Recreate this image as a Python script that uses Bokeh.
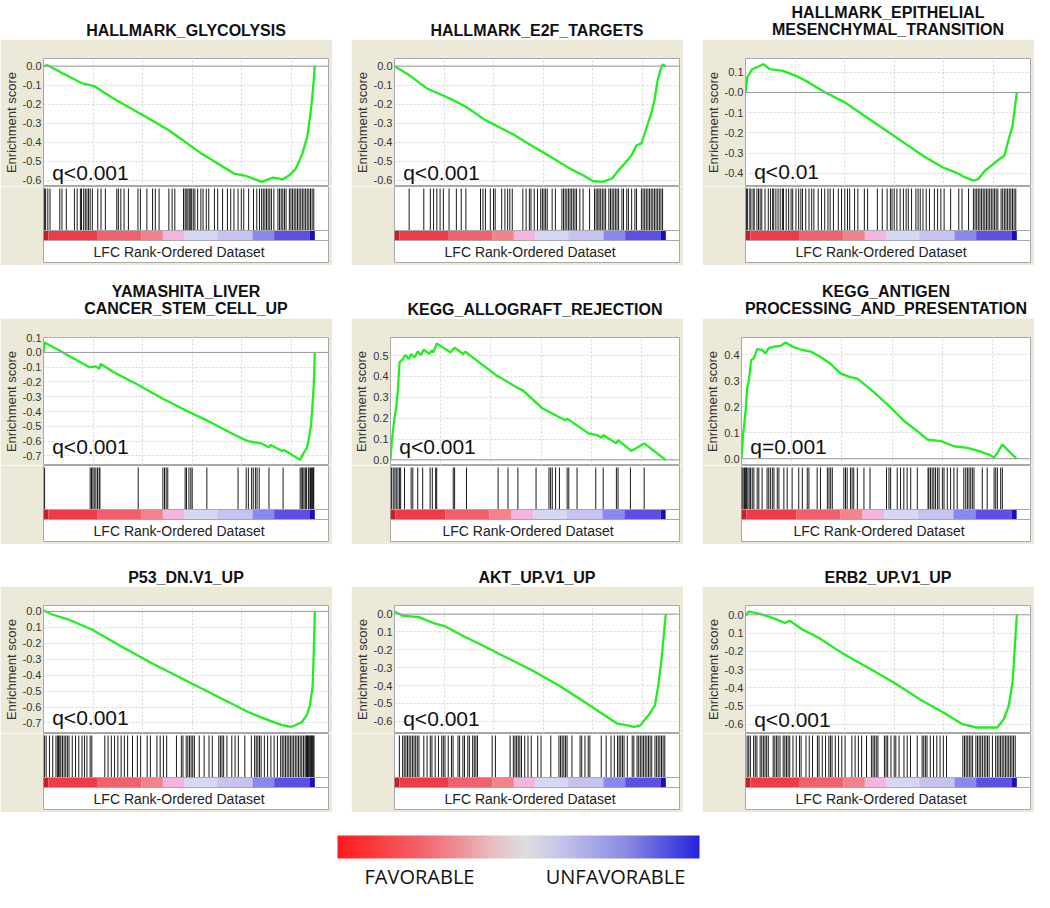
import numpy as np
from bokeh.plotting import figure
from bokeh.layouts import column, row
from bokeh.models import Range1d, FixedTicker, SingleIntervalTicker, Span, Label, Spacer, LinearColorMapper
from bokeh.core.properties import value
from bokeh.embed import file_html
from bokeh.resources import INLINE

# ---------------- data ----------------
N_GENES = 13700  # size of the ranked list

titles = ["HALLMARK_GLYCOLYSIS", "HALLMARK_E2F_TARGETS", "HALLMARK_EPITHELIAL\nMESENCHYMAL_TRANSITION",
          "YAMASHITA_LIVER\nCANCER_STEM_CELL_UP", "KEGG_ALLOGRAFT_REJECTION", "KEGG_ANTIGEN\nPROCESSING_AND_PRESENTATION",
          "P53_DN.V1_UP", "AKT_UP.V1_UP", "ERB2_UP.V1_UP"]
q_texts = ["q<0.001", "q<0.001", "q<0.01", "q<0.001", "q<0.001", "q=0.001", "q<0.001", "q<0.001", "q<0.001"]

# running enrichment score: position (% of ranked list) and ES
glyco_x = [0, 1.5, 7.2, 14.4, 18.6, 25.8, 37.8, 46.2, 58.2, 70.2, 75.0, 80.4, 84.6, 88.2, 90.6, 93.0, 95.4, 97.2, 98.4, 99.0, 99.6, 100]
glyco_es = [0, 0.005, -0.039, -0.091, -0.105, -0.17, -0.267, -0.337, -0.46, -0.565, -0.579, -0.609, -0.586, -0.595, -0.574, -0.539, -0.46, -0.372, -0.249, -0.17, -0.074, 0]
e2f_x = [0, 5.4, 12.0, 20.4, 26.3, 33.5, 39.5, 44.3, 50.3, 57.5, 64.7, 69.5, 73.1, 76.6, 80.2, 82.6, 85.0, 87.4, 89.2, 91.0, 92.8, 94.6, 95.8, 97.0, 98.0, 98.8, 100]
e2f_es = [0, -0.047, -0.118, -0.17, -0.214, -0.284, -0.328, -0.363, -0.416, -0.477, -0.539, -0.574, -0.604, -0.609, -0.591, -0.547, -0.509, -0.468, -0.416, -0.407, -0.328, -0.249, -0.179, -0.074, -0.021, 0.009, 0]
emt_x = [0, 0.6, 2.4, 5.4, 6.6, 9.0, 13.8, 18.6, 22.2, 29.4, 36.6, 43.8, 51.0, 58.2, 65.4, 72.6, 77.4, 81.0, 84.0, 85.8, 88.2, 90.6, 93.6, 95.4, 97.2, 98.4, 99.2, 100]
emt_es = [0, 0.074, 0.115, 0.132, 0.14, 0.115, 0.107, 0.082, 0.058, 0.0, -0.049, -0.115, -0.181, -0.247, -0.313, -0.37, -0.395, -0.42, -0.436, -0.428, -0.387, -0.362, -0.329, -0.313, -0.222, -0.165, -0.082, 0]
yama_x = [0, 0.4, 7.2, 16.9, 19.3, 20.5, 21.1, 25.9, 34.3, 44.0, 53.6, 60.8, 70.5, 75.3, 80.1, 83.1, 83.7, 88.0, 88.6, 94.6, 95.8, 97.0, 97.6, 98.6, 99.2, 99.6, 100]
yama_es = [0, 0.067, 0.0, -0.101, -0.094, -0.112, -0.078, -0.134, -0.213, -0.313, -0.403, -0.465, -0.559, -0.6, -0.615, -0.642, -0.626, -0.667, -0.66, -0.727, -0.683, -0.649, -0.604, -0.492, -0.336, -0.224, 0]
allo_x = [0, 0.4, 1.0, 1.5, 2.1, 2.7, 3.3, 4.5, 5.4, 6.6, 7.5, 8.7, 9.9, 11.1, 12.1, 14.1, 14.9, 15.6, 16.8, 19.5, 21.8, 23.3,
          26.4, 27.2, 31.4, 38.5, 39.7, 42.7, 45.7, 48.1, 55.3, 60.0, 63.6, 64.2, 72.0, 75.0, 76.7, 77.3, 82.1, 82.7, 87.5, 92.2, 100]
allo_es = [0, 0.079, 0.151, 0.206, 0.254, 0.341, 0.468, 0.484, 0.503, 0.484, 0.508, 0.492, 0.519, 0.503, 0.529, 0.508, 0.524, 0.516, 0.559, 0.535, 0.516, 0.538,
           0.508, 0.519, 0.476, 0.405, 0.397, 0.373, 0.349, 0.333, 0.246, 0.214, 0.19, 0.198, 0.127, 0.119, 0.106, 0.119, 0.079, 0.095, 0.043, 0.079, 0]
anti_x = [0, 0.6, 1.5, 2.1, 2.7, 3.5, 4.5, 5.7, 7.5, 8.7, 9.9, 11.8, 14.2, 16.0, 19.0, 22.1, 25.1, 28.7, 32.4, 36.0, 39.6, 42.1,
          48.1, 54.2, 59.1, 63.9, 67.5, 72.4, 77.2, 82.1, 86.4, 89.9, 91.8, 93.0, 94.8, 96.6, 100]
anti_es = [0, 0.094, 0.184, 0.275, 0.301, 0.379, 0.386, 0.421, 0.418, 0.405, 0.425, 0.431, 0.434, 0.447, 0.429, 0.418, 0.412, 0.392, 0.364, 0.327, 0.314, 0.308,
           0.256, 0.197, 0.145, 0.106, 0.074, 0.068, 0.048, 0.042, 0.029, 0.016, 0.005, 0.022, 0.055, 0.035, 0]
p53_x = [0, 3.4, 9.4, 17.8, 27.4, 39.4, 51.4, 63.4, 75.4, 81.4, 87.4, 91.0, 92.8, 95.2, 97.0, 98.2, 99.2, 99.6, 100]
p53_es = [0.006, -0.021, -0.052, -0.114, -0.207, -0.321, -0.424, -0.528, -0.631, -0.673, -0.71, -0.725, -0.714, -0.694, -0.652, -0.59, -0.466, -0.259, 0]
akt_x = [0, 3.0, 9.0, 15.0, 18.6, 25.8, 31.8, 41.4, 51.0, 60.6, 70.2, 77.4, 82.2, 85.8, 88.2, 90.6, 93.6, 96.0, 97.2, 98.4, 99.2, 100]
akt_es = [0.015, -0.009, -0.017, -0.054, -0.068, -0.127, -0.17, -0.244, -0.317, -0.4, -0.493, -0.566, -0.613, -0.622, -0.631, -0.622, -0.566, -0.511, -0.4, -0.253, -0.124, 0]
erb2_x = [0, 1.2, 5.4, 10.2, 14.5, 16.3, 21.1, 27.1, 35.5, 45.2, 54.8, 64.3, 72.9, 80.0, 84.9, 89.6, 92.8, 95.2, 97.0, 98.4, 99.2, 100]
erb2_es = [-0.005, 0.018, 0.005, -0.018, -0.045, -0.033, -0.082, -0.127, -0.209, -0.291, -0.373, -0.464, -0.536, -0.6, -0.618, -0.618, -0.618, -0.573, -0.5, -0.373, -0.191, 0]

# gene-set member positions (% of ranked list)
glyco_hits = [0.4, 0.8, 1.6, 2.4, 6.0, 6.8, 8.4, 11.4, 12.4, 13.6, 14.0, 14.8, 15.4, 16.0, 16.6, 17.2, 18.0, 20.0, 21.2, 22.8, 27.0, 27.6, 28.5, 29.7, 31.3,
              34.8, 35.7, 38.1, 40.2, 41.2, 42.6, 46.2, 47.4, 48.4, 51.6, 52.2, 52.6, 53.2, 53.7, 54.1, 54.6, 55.2, 55.8, 56.8, 58.0, 58.8, 60.0, 60.9,
              63.0, 64.2, 66.0, 67.8, 69.0, 70.2, 71.7, 72.9, 73.8, 75.6, 77.4, 78.6, 79.6, 80.4, 81.0, 81.6, 82.2, 82.8, 83.4, 84.0, 84.9, 86.4, 87.0,
              87.6, 88.2, 88.8, 89.4, 90.6, 91.2, 91.8, 92.4, 93.0, 93.6, 94.2, 94.8, 95.4, 96.0, 96.6, 97.2, 97.8, 98.4, 99.0, 99.6]
e2f_hits = [5.4, 10.8, 13.2, 14.4, 15.6, 16.8, 18.0, 20.1, 22.8, 24.6, 26.3, 31.7, 32.6, 33.5, 35.3, 36.5, 37.1, 39.5, 40.7, 41.7, 42.5, 43.4, 47.3,
            48.5, 49.7, 50.3, 51.5, 52.7, 53.9, 54.5, 55.1, 55.7, 56.3, 58.1, 59.3, 61.7, 62.3, 62.9, 63.5, 64.1, 64.7, 65.3, 65.9, 66.5, 67.1, 68.3,
            69.5, 71.9, 73.7, 74.3, 74.9, 75.4, 76.0, 76.6, 77.2, 77.8, 79.0, 79.6, 80.2, 80.8, 81.4, 82.0, 82.6, 83.8, 84.4, 85.6, 86.2, 87.4, 88.6,
            89.2, 91.0, 91.6, 92.2, 92.8, 93.4, 94.0, 94.6, 95.2, 95.8, 96.4, 97.0, 97.6, 98.2, 98.8]
emt_hits = [0.4, 0.8, 1.6, 2.0, 2.8, 3.2, 4.2, 4.8, 5.4, 6.0, 7.2, 8.4, 9.2, 10.0, 10.4, 11.2, 12.0, 12.8, 13.6, 14.0, 15.0, 15.9, 16.8, 17.4, 18.6,
            19.6, 20.4, 21.0, 22.2, 23.4, 24.4, 25.2, 26.8, 28.0, 29.2, 30.4, 31.2, 32.4, 34.2, 35.4, 36.6, 37.6, 38.4, 40.2, 41.4, 43.8, 45.0, 48.6,
            50.4, 52.2, 53.4, 54.0, 54.8, 55.8, 57.0, 58.2, 59.2, 60.0, 61.2, 62.8, 63.6, 64.4, 65.4, 66.6, 67.8, 69.6, 70.8, 72.0, 73.2, 75.6, 78.6,
            79.8, 82.2, 84.0, 84.6, 85.2, 85.8, 86.4, 87.0, 87.6, 88.2, 88.8, 89.4, 90.0, 90.6, 91.2, 91.8, 92.4, 93.0, 94.2, 94.8, 95.4, 96.0, 96.6,
            97.2, 97.8, 98.4, 99.0, 99.6]
yama_hits = [0.4, 17.2, 17.7, 18.2, 18.7, 19.3, 19.9, 20.5, 20.8, 34.9, 44.0, 44.6, 45.2, 45.8, 52.2, 52.7, 53.6, 54.3, 54.8, 60.2, 71.7, 74.7, 75.5,
             76.7, 77.3, 78.1, 78.7, 79.5, 83.1, 88.3, 94.6, 95.2, 95.5, 96.0, 96.5, 96.9, 97.6, 97.9, 98.4, 98.8, 99.2, 99.4, 99.6]
allo_hits = [0.4, 1.0, 1.6, 2.1, 2.7, 3.3, 3.7, 5.1, 7.5, 8.1, 9.9, 11.7, 14.4, 15.2, 16.4, 16.8, 22.8, 23.3, 27.6, 39.1, 42.7, 46.3, 52.9, 57.6,
             58.2, 58.8, 60.0, 61.4, 64.2, 64.8, 67.8, 74.6, 77.3, 82.1, 82.7, 87.2, 92.2]
anti_hits = [0.2, 0.6, 1.1, 1.5, 1.8, 2.3, 2.8, 3.3, 3.9, 4.5, 5.7, 6.3, 7.5, 9.3, 9.9, 10.5, 11.2, 11.8, 13.0, 13.6, 15.4, 16.6, 18.4, 20.8, 22.1,
             23.9, 24.5, 27.5, 28.7, 31.2, 31.8, 32.4, 33.0, 37.2, 37.8, 38.4, 39.6, 40.2, 40.8, 42.1, 44.5, 46.7, 52.7, 53.6, 54.2, 56.6, 57.8, 59.0,
             60.2, 61.5, 63.9, 67.8, 68.1, 68.7, 69.3, 69.9, 70.5, 71.2, 71.8, 73.0, 73.6, 74.8, 76.0, 77.2, 78.4, 80.8, 81.5, 82.1, 82.7, 83.3, 83.9,
             84.5, 87.5, 89.3, 91.8, 92.4, 93.0, 94.2, 94.8]
p53_hits = [0.4, 1.0, 2.2, 3.4, 4.6, 5.2, 5.5, 6.0, 6.4, 7.0, 7.6, 8.2, 8.8, 9.4, 10.6, 11.8, 13.0, 14.2, 15.1, 16.0, 17.2, 17.8, 22.6, 23.8, 25.0,
            26.2, 27.4, 28.6, 29.8, 31.0, 32.8, 34.6, 35.8, 38.2, 39.4, 41.8, 43.0, 44.2, 45.4, 49.0, 50.8, 51.4, 52.6, 53.2, 53.8, 54.4, 55.0, 55.6,
            57.4, 59.2, 61.0, 62.2, 64.6, 65.2, 65.8, 66.4, 67.6, 69.4, 70.6, 71.8, 74.2, 76.6, 77.8, 78.4, 79.0, 79.6, 80.2, 81.4, 82.6, 83.8, 85.0,
            86.2, 87.4, 88.0, 88.6, 89.2, 89.8, 90.4, 91.0, 91.6, 92.2, 92.8, 93.4, 94.0, 94.6, 95.2, 95.8, 96.4, 96.8, 97.0, 97.3, 97.6, 97.9, 98.2,
            98.5, 98.8, 99.1, 99.4, 99.7]
akt_hits = [1.8, 3.0, 3.6, 4.2, 4.8, 5.4, 6.0, 6.6, 7.2, 7.8, 8.4, 9.0, 10.8, 12.0, 13.2, 13.8, 15.0, 16.2, 17.4, 18.0, 18.6, 19.8, 21.0, 21.6, 23.4,
            24.0, 25.2, 25.8, 27.0, 27.6, 28.8, 29.4, 30.0, 30.6, 36.0, 37.2, 42.6, 43.8, 44.4, 45.0, 45.6, 46.2, 46.8, 48.0, 49.2, 50.4, 52.8, 54.0,
            57.6, 60.6, 61.2, 61.8, 62.4, 63.0, 63.6, 65.4, 68.4, 69.0, 70.2, 71.4, 72.0, 76.2, 78.0, 79.8, 81.0, 82.2, 82.8, 83.4, 84.0, 84.6, 85.8,
            87.6, 88.2, 89.4, 90.0, 90.6, 91.2, 91.8, 92.4, 93.0, 93.6, 94.2, 94.8, 96.0, 96.6, 97.2, 97.8, 98.4, 99.0, 99.6]
erb2_hits = [0.6, 1.2, 1.8, 3.0, 3.6, 4.2, 5.4, 6.0, 6.6, 7.2, 7.8, 8.4, 10.2, 10.8, 11.4, 12.0, 12.7, 13.9, 14.5, 15.1, 15.7, 16.3, 17.5, 18.7,
             19.9, 20.5, 22.3, 23.5, 24.7, 26.5, 27.1, 28.3, 29.5, 30.7, 31.3, 31.9, 33.1, 34.3, 35.5, 36.7, 39.2, 40.4, 41.6, 42.8, 44.6, 46.4, 47.0,
             47.6, 48.2, 48.8, 51.2, 51.8, 52.4, 53.6, 54.8, 55.4, 56.6, 58.4, 59.6, 60.8, 63.3, 65.1, 65.7, 66.3, 66.9, 68.1, 69.3, 70.5, 71.7, 72.9,
             74.1, 80.1, 80.7, 81.3, 81.9, 82.5, 83.1, 83.7, 84.9, 85.5, 86.1, 86.7, 87.3, 88.0, 88.6, 89.2, 89.8, 91.0, 92.2, 92.8, 93.4, 94.0, 94.6,
             95.2, 95.8, 96.4, 97.0, 97.6, 98.2, 98.8, 99.4]

# y-axis ranges, ticks and tick labels (as printed)
y_ranges = [(-0.633, 0.04), (-0.633, 0.04), (-0.465, 0.168), (-0.765, 0.101), (-0.027, 0.587),
            (-0.026, 0.466), (-0.766, 0.037), (-0.668, 0.048), (-0.651, 0.051)]
neg6 = [0.0, -0.1, -0.2, -0.3, -0.4, -0.5, -0.6]
neg6_lab = ["0.0", "-0.1", "-0.2", "-0.3", "-0.4", "-0.5", "-0.6"]
y_ticks = [neg6, neg6, [0.1, 0.0, -0.1, -0.2, -0.3, -0.4],
           [0.1, 0.0, -0.1, -0.2, -0.3, -0.4, -0.5, -0.6, -0.7],
           [0.0, 0.1, 0.2, 0.3, 0.4, 0.5], [0.0, 0.1, 0.2, 0.3, 0.4],
           [0.0, -0.1, -0.2, -0.3, -0.4, -0.5, -0.6, -0.7], neg6, neg6]
y_tick_labels = [neg6_lab, neg6_lab, ["0.1", "-0.0", "-0.1", "-0.2", "-0.3", "-0.4"],
                 ["0.1", "0.0", "-0.1", "-0.2", "-0.3", "-0.4", "-0.5", "-0.6", "-0.7"],
                 ["0.0", "0.1", "0.2", "0.3", "0.4", "0.5"], ["0.0", "0.1", "0.2", "0.3", "0.4"],
                 ["0.0", "0.1", "-0.2", "-0.3", "-0.4", "-0.5", "-0.6", "-0.7"],
                 ["0.0", "0.1", "-0.2", "-0.3", "-0.4", "-0.5", "-0.6"],
                 ["0.0", "0.1", "-0.2", "-0.3", "-0.4", "-0.5", "-0.6"]]

# ranked-list colour strip (% breaks)
strip_breaks = [0, 1.8, 20, 36, 44, 52, 64, 77, 85, 98.2, 100]
strip_colors = ["#c81e2a", "#ef3b47", "#f2606c", "#f3828a", "#f4b6de", "#d6d6f5", "#c6c3f1", "#8888f0", "#5b4fe4", "#1e0cb8"]

legend_labels = ["FAVORABLE", "UNFAVORABLE"]
legend_stops = ["#ff1a1a", "#f26a72", "#e6c2c6", "#dedede", "#c4c4ea", "#8a8ae2", "#2424de"]
legend_stop_pos = [0, 0.25, 0.44, 0.52, 0.62, 0.8, 1]

curves_x = [glyco_x, e2f_x, emt_x, yama_x, allo_x, anti_x, p53_x, akt_x, erb2_x]
curves_es = [glyco_es, e2f_es, emt_es, yama_es, allo_es, anti_es, p53_es, akt_es, erb2_es]
hits_all = [glyco_hits, e2f_hits, emt_hits, yama_hits, allo_hits, anti_hits, p53_hits, akt_hits, erb2_hits]

# ---------------- style / layout ----------------
FONT = "Liberation Sans"
BEIGE = "#ECE9D8"
GREEN = "#1FEF1F"
PW = 332          # panel width
LB, RB = 38, 4    # beige borders left/right
TB = 19           # beige above ES frame
ES_FH = 128       # ES frame height
BOT_FH = 76       # hits+strip+label frame height
BB = 3            # beige below
HIT_TOP, STRIP_TOP, STRIP_BOT, LABEL_Y = 74, 32, 22, 11
title_heights = [39, 39, 24]
q_base_px = [14, 14, 15, 19, 19, 19, 16, 15, 14]
FRAME_W = PW - LB - RB
CURVE_W = FRAME_W * 278.0 / 292.0
X_END = N_GENES * FRAME_W / CURVE_W


def make_panel(i, title_h):
    tf = figure(width=PW, height=title_h, x_range=Range1d(0, 1), y_range=Range1d(0, title_h),
                toolbar_location=None, output_backend="svg", x_axis_location=None, y_axis_location=None,
                min_border=0, outline_line_color=None)
    tf.grid.visible = False
    tf.text(x=[0.5], y=[1], text=[titles[i]], text_align="center", text_baseline="bottom",
            text_font=value(FONT), text_font_style="bold", text_font_size="16px",
            text_line_height=1.05, text_color="#111111")

    yr = y_ranges[i]
    es = figure(width=PW, height=ES_FH + TB, x_range=Range1d(0, X_END), y_range=Range1d(*yr),
                toolbar_location=None, output_backend="svg", x_axis_location=None,
                min_border_left=LB, min_border_right=RB, min_border_top=TB, min_border_bottom=0,
                background_fill_color="white", border_fill_color=BEIGE, outline_line_color="#a8a8a8")
    ax = es.yaxis[0]
    ax.ticker = FixedTicker(ticks=y_ticks[i])
    ax.major_label_overrides = {t: l for t, l in zip(y_ticks[i], y_tick_labels[i])}
    ax.axis_label = "Enrichment score"
    ax.axis_label_text_font = FONT
    ax.axis_label_text_font_style = "normal"
    ax.axis_label_text_font_size = "13px"
    ax.axis_label_text_color = "#333333"
    ax.axis_label_standoff = 1
    ax.major_label_text_font = FONT
    ax.major_label_text_font_size = "11px"
    ax.major_label_text_color = "#333333"
    ax.major_label_standoff = 2
    ax.major_tick_out = 0
    ax.major_tick_in = 0
    ax.minor_tick_out = 0
    ax.minor_tick_in = 0
    ax.axis_line_color = None
    es.xgrid.ticker = SingleIntervalTicker(interval=2500)
    es.grid.grid_line_color = "#d6d6d6"
    es.grid.grid_line_dash = "2 2"
    es.add_layout(Span(location=0, dimension="width", line_color="#9a9a9a", line_width=1))
    xs = [v / 100.0 * N_GENES for v in curves_x[i]]
    es.line(x=xs, y=curves_es[i], line_color=GREEN, line_width=2.3)
    qy = yr[0] + q_base_px[i] / ES_FH * (yr[1] - yr[0])
    es.add_layout(Label(x=0.032 * N_GENES, y=qy, text=q_texts[i], text_font=FONT,
                        text_font_size="21px", text_baseline="alphabetic", text_color="#111111"))

    bt = figure(width=PW, height=BOT_FH + BB, x_range=es.x_range, y_range=Range1d(0, BOT_FH),
                toolbar_location=None, output_backend="svg", x_axis_location=None, y_axis_location=None,
                min_border_left=LB, min_border_right=RB, min_border_top=0, min_border_bottom=BB,
                background_fill_color="white", border_fill_color=BEIGE, outline_line_color="#a8a8a8")
    bt.grid.visible = False
    hx = [h / 100.0 * N_GENES for h in hits_all[i]]
    bt.segment(x0=hx, x1=hx, y0=[STRIP_TOP] * len(hx), y1=[HIT_TOP] * len(hx),
               line_color="black", line_width=1, line_alpha=0.9)
    lefts = [b / 100.0 * N_GENES for b in strip_breaks[:-1]]
    rights = [b / 100.0 * N_GENES for b in strip_breaks[1:]]
    bt.quad(left=lefts, right=rights, bottom=STRIP_BOT, top=STRIP_TOP, fill_color=strip_colors, line_color=None)
    bt.segment(x0=[0, 0], x1=[X_END, X_END], y0=[STRIP_TOP, STRIP_BOT], y1=[STRIP_TOP, STRIP_BOT],
               line_color="#a8a8a8", line_width=1)
    bt.text(x=[N_GENES / 2.0], y=[LABEL_Y], text=["LFC Rank-Ordered Dataset"], text_align="center",
            text_baseline="middle", text_font=value(FONT), text_font_size="14px", text_color="#222222")
    return column(tf, es, bt)


rows = []
for r in range(3):
    rows.append(row([make_panel(3 * r + c, title_heights[r]) for c in range(3)], spacing=19))

# colour legend
CB_W, CB_H = 1034, 81
cb = figure(width=CB_W, height=CB_H, x_range=Range1d(0, CB_W), y_range=Range1d(0, CB_H),
            toolbar_location=None, output_backend="svg", x_axis_location=None, y_axis_location=None,
            min_border=0, outline_line_color=None)
cb.grid.visible = False


def _hex(c):
    return np.array([int(c[k:k + 2], 16) for k in (1, 3, 5)], dtype=float)


pos = np.linspace(0, 1, 256)
stops = np.array([_hex(c) for c in legend_stops])
rgb = np.stack([np.interp(pos, legend_stop_pos, stops[:, k]) for k in range(3)], axis=1)
palette = ["#%02x%02x%02x" % tuple(int(round(v)) for v in c) for c in rgb]
mapper = LinearColorMapper(palette=palette, low=0, high=1)
BAR_X, BAR_W, BAR_Y, BAR_H = 337, 362, 35, 23
cb.image(image=[pos.reshape(1, -1)], x=BAR_X, y=BAR_Y, dw=BAR_W, dh=BAR_H, color_mapper=mapper)
cb.text(x=[BAR_X + 82, BAR_X + 278], y=[17, 17], text=legend_labels, text_align="center",
        text_baseline="middle", text_font=value("Open Sans"), text_font_size="20px", text_color="#111111")

layout = column(rows[0], Spacer(height=14), rows[1], Spacer(height=18), rows[2], cb)

open("out.html", "w").write(file_html(layout, INLINE))
